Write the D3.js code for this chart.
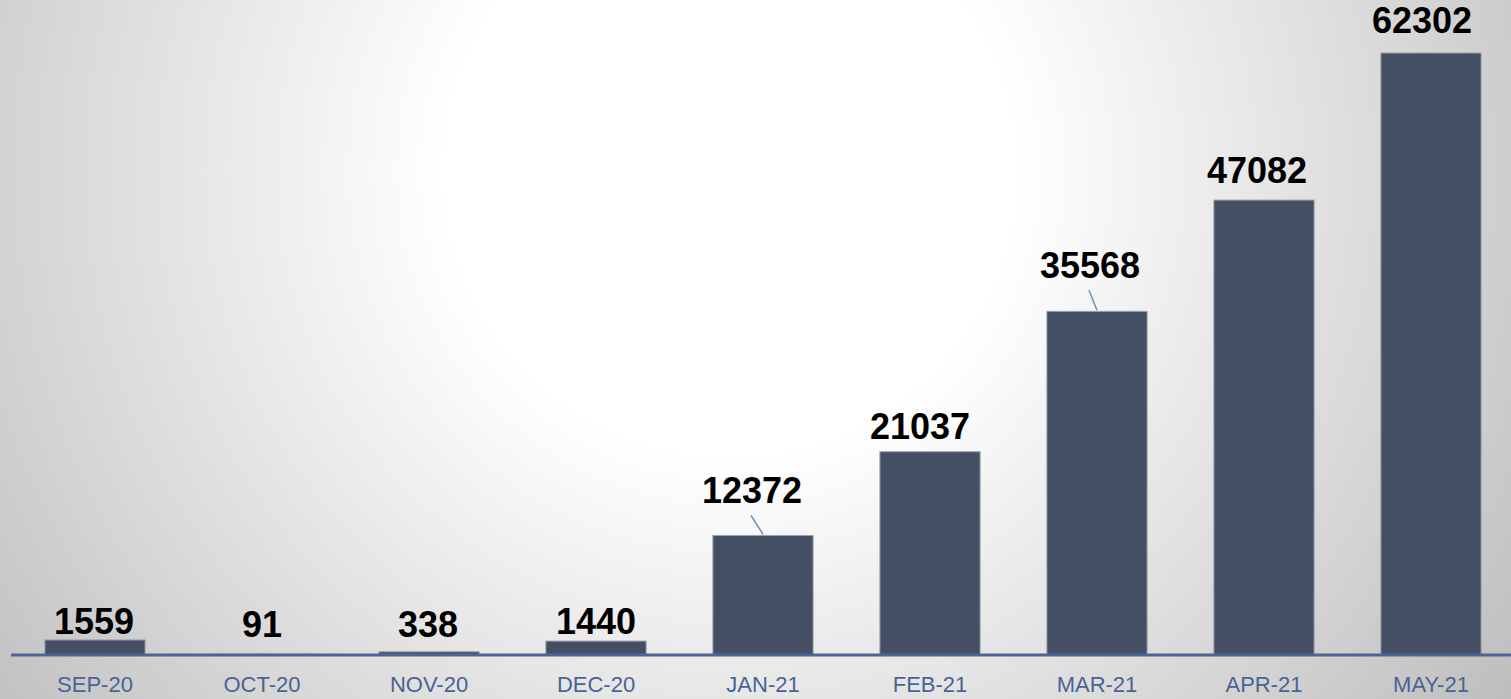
<!DOCTYPE html>
<html>
<head>
<meta charset="utf-8">
<script src="https://cdn.jsdelivr.net/npm/d3@7"></script>
<style>
  html, body { margin: 0; padding: 0; overflow: hidden; }
  svg { display: block; }
</style>
</head>
<body>
<div id="chart"></div>
<script>
// data
const months = ["SEP-20", "OCT-20", "NOV-20", "DEC-20", "JAN-21", "FEB-21", "MAR-21", "APR-21", "MAY-21"];
const values = [1559, 91, 338, 1440, 12372, 21037, 35568, 47082, 62302];

// label nudges (dx, dy from bar top centre) and which labels get a leader line
const labelDx = [-1, 0, -1, 0, -11, -10, -7, -7, -9];
const labelDy = [-6, -17, -15, -7, -32, -13, -33, -17, -20];
const leader = [false, false, false, false, true, false, true, false, false];

const width = 1511;
const height = 699;
const baseline = 655;

const svg = d3.select("#chart")
    .append("svg")
    .attr("width", width)
    .attr("height", height);

// soft radial background
const grad = svg.append("defs")
    .append("radialGradient")
    .attr("id", "bg")
    .attr("gradientUnits", "userSpaceOnUse")
    .attr("cx", 730).attr("cy", 170).attr("r", 950);
grad.append("stop").attr("offset", 0).attr("stop-color", "#ffffff");
grad.append("stop").attr("offset", 0.3).attr("stop-color", "#ffffff");
grad.append("stop").attr("offset", 1).attr("stop-color", "#bdbdbd");

svg.append("rect")
    .attr("width", width)
    .attr("height", height)
    .attr("fill", "url(#bg)");

const x = d3.scaleBand()
    .domain(months)
    .range([11.5, 1514.5])
    .paddingInner(0.4)
    .paddingOuter(0.2);

const y = d3.scaleLinear()
    .domain([0, d3.max(values)])
    .range([baseline, 53]);

const data = months.map((m, i) => ({ month: m, value: values[i], i }));

// bars
svg.selectAll("rect.bar")
    .data(data)
    .join("rect")
    .attr("class", "bar")
    .attr("x", d => x(d.month))
    .attr("y", d => y(d.value))
    .attr("width", x.bandwidth())
    .attr("height", d => baseline - y(d.value))
    .attr("fill", "#454f63")
    .attr("stroke", "#9aa2b0")
    .attr("stroke-width", 1);

// axis line + month labels
const axis = svg.append("g")
    .attr("transform", `translate(0,${baseline})`)
    .call(d3.axisBottom(x).tickSize(0).tickPadding(21));
axis.select(".domain")
    .attr("d", `M11,0H${width}`)
    .attr("stroke", "#4a6596")
    .attr("stroke-width", 3);
axis.selectAll("text")
    .attr("fill", "#4a6394")
    .style("font-family", "Arial, 'Liberation Sans', sans-serif")
    .style("font-size", "22px");

// leader lines
svg.selectAll("line.leader")
    .data(data.filter(d => leader[d.i]))
    .join("line")
    .attr("class", "leader")
    .attr("x1", d => x(d.month) + x.bandwidth() / 2 + labelDx[d.i] - 1)
    .attr("y1", d => y(d.value) + labelDy[d.i] + 12)
    .attr("x2", d => x(d.month) + x.bandwidth() / 2)
    .attr("y2", d => y(d.value) - 1)
    .attr("stroke", "#6f8dc0")
    .attr("stroke-width", 1.5);

// value labels
svg.selectAll("text.value")
    .data(data)
    .join("text")
    .attr("class", "value")
    .attr("x", d => x(d.month) + x.bandwidth() / 2 + labelDx[d.i])
    .attr("y", d => y(d.value) + labelDy[d.i])
    .attr("text-anchor", "middle")
    .attr("fill", "#000")
    .style("font-family", "Arial, 'Liberation Sans', sans-serif")
    .style("font-weight", "bold")
    .style("font-size", "36px")
    .text(d => d.value);
</script>
</body>
</html>
